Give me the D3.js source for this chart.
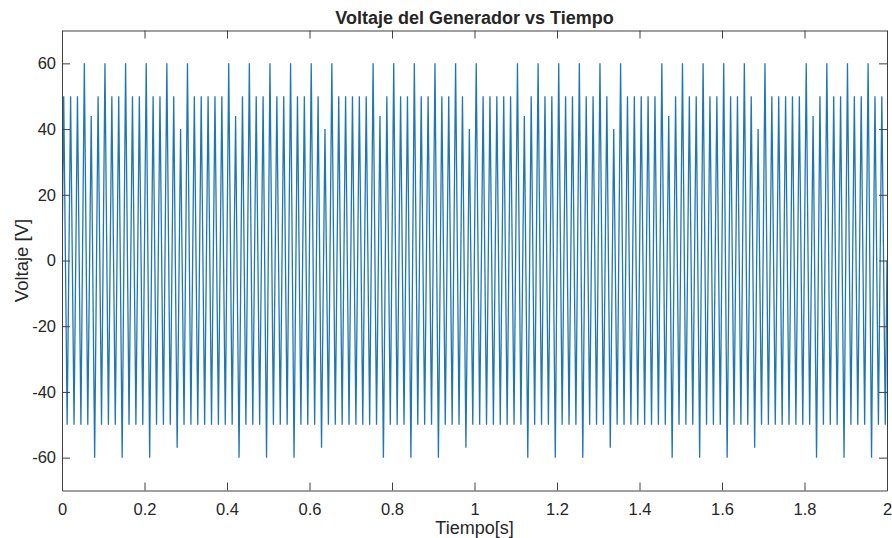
<!DOCTYPE html>
<html>
<head>
<meta charset="utf-8">
<script src="https://cdn.jsdelivr.net/npm/d3@7"></script>
<style>
  html, body { margin: 0; padding: 0; background: #ffffff; }
  svg { display: block; }
  text { font-family: "Liberation Sans", Arial, Helvetica, sans-serif; fill: #262626; }
</style>
</head>
<body>
<svg id="chart" width="892" height="538"></svg>
<script>
// ---- data ----
const title = "Voltaje del Generador vs Tiempo";
const xLabel = "Tiempo[s]";
const yLabel = "Voltaje [V]";
const xTicks = [0, 0.2, 0.4, 0.6, 0.8, 1, 1.2, 1.4, 1.6, 1.8, 2];
const yTicks = [-60, -40, -20, 0, 20, 40, 60];
const xDomain = [0, 2];
const yDomain = [-70, 70];
const signalFrequency = 60; // Hz, one positive and one negative peak per cycle

// positive peak value of each cycle (120 cycles)
const peaks = [
  50,50,50,60,44,50,60,50,50,60,50,50,60,50,50,60,50,40,60,50,50,
  50,50,50,60,44,50,60,50,50,60,50,50,60,50,50,60,50,40,60,50,50,
  50,50,50,60,44,50,60,50,50,60,50,50,60,50,50,60,50,40,60,50,50,
  50,50,50,60,44,50,60,50,50,60,50,50,60,50,50,60,50,40,60,50,50,
  50,50,50,60,44,50,60,50,50,60,50,50,60,50,50,60,50,40,60,50,50,
  50,50,50,60,44,50,60,50,50,60,50,50,60,50,50
];
// negative peak value of each cycle (120 cycles)
const troughs = [
  -50,-50,-50,-50,-60,-50,-50,-50,-60,-50,-50,-50,-60,-50,-50,-50,-57,-50,-50,-50,-50,
  -50,-50,-50,-50,-60,-50,-50,-50,-60,-50,-50,-50,-60,-50,-50,-50,-57,-50,-50,-50,-50,
  -50,-50,-50,-50,-60,-50,-50,-50,-60,-50,-50,-50,-60,-50,-50,-50,-57,-50,-50,-50,-50,
  -50,-50,-50,-50,-60,-50,-50,-50,-60,-50,-50,-50,-60,-50,-50,-50,-57,-50,-50,-50,-50,
  -50,-50,-50,-50,-60,-50,-50,-50,-60,-50,-50,-50,-60,-50,-50,-50,-57,-50,-50,-50,-50,
  -50,-50,-50,-50,-60,-50,-50,-50,-60,-50,-50,-50,-60,-50,-50
];

// ---- build point list ----
const points = [{t: 0, v: 0}];
for (let k = 0; k < peaks.length; k++) {
  points.push({t: (k + 0.25) / signalFrequency, v: peaks[k]});
  points.push({t: (k + 0.75) / signalFrequency, v: troughs[k]});
}
points.push({t: xDomain[1], v: 0});

// ---- layout ----
const svg = d3.select("#chart");
const L = 62, R = 887, T = 30.5, B = 490.5;
const x = d3.scaleLinear().domain(xDomain).range([L, R]);
const y = d3.scaleLinear().domain(yDomain).range([B, T]);
const axisColor = "#404040";
const tickLen = 8;
const fontSize = 16.5;

// clip
svg.append("defs").append("clipPath").attr("id", "clip")
  .append("rect").attr("x", L).attr("y", T).attr("width", R - L).attr("height", B - T);

// line
const line = d3.line().x(d => x(d.t)).y(d => y(d.v));
svg.append("path")
  .datum(points)
  .attr("clip-path", "url(#clip)")
  .attr("d", line)
  .attr("fill", "none")
  .attr("stroke", "#1f76b4")
  .attr("stroke-width", 1.3)
  .attr("stroke-linejoin", "miter");

// axes (MATLAB style: ticks inside, box)
function styleAxis(g) {
  g.select(".domain").attr("stroke", axisColor).attr("stroke-width", 1);
  g.selectAll(".tick line").attr("stroke", axisColor).attr("stroke-width", 1);
  g.selectAll(".tick text").attr("fill", "#262626").style("font-size", fontSize + "px")
    .style("font-family", '"Liberation Sans", Arial, Helvetica, sans-serif');
}
const fmt = d => String(d);

svg.append("g").attr("transform", `translate(0,${B})`)
  .call(d3.axisBottom(x).tickValues(xTicks).tickFormat(fmt).tickSizeInner(-tickLen).tickSizeOuter(0).tickPadding(13))
  .call(styleAxis);
svg.append("g").attr("transform", `translate(0,${T})`)
  .call(d3.axisTop(x).tickValues(xTicks).tickFormat("").tickSizeInner(-tickLen).tickSizeOuter(0))
  .call(styleAxis);
svg.append("g").attr("transform", `translate(${L},0)`)
  .call(d3.axisLeft(y).tickValues(yTicks).tickFormat(fmt).tickSizeInner(-tickLen).tickSizeOuter(0).tickPadding(6))
  .call(styleAxis);
svg.append("g").attr("transform", `translate(${R},0)`)
  .call(d3.axisRight(y).tickValues(yTicks).tickFormat("").tickSizeInner(-tickLen).tickSizeOuter(0))
  .call(styleAxis);

// title and labels
svg.append("text")
  .attr("x", (L + R) / 2).attr("y", 24)
  .attr("text-anchor", "middle")
  .style("font-size", "18px").style("font-weight", "bold")
  .attr("fill", "#000")
  .text(title);
svg.append("text")
  .attr("x", (L + R) / 2).attr("y", 534)
  .attr("text-anchor", "middle")
  .style("font-size", "18px")
  .text(xLabel);
svg.append("text")
  .attr("transform", `translate(28,${(T + B) / 2}) rotate(-90)`)
  .attr("text-anchor", "middle")
  .style("font-size", "18.5px")
  .text(yLabel);
</script>
</body>
</html>
